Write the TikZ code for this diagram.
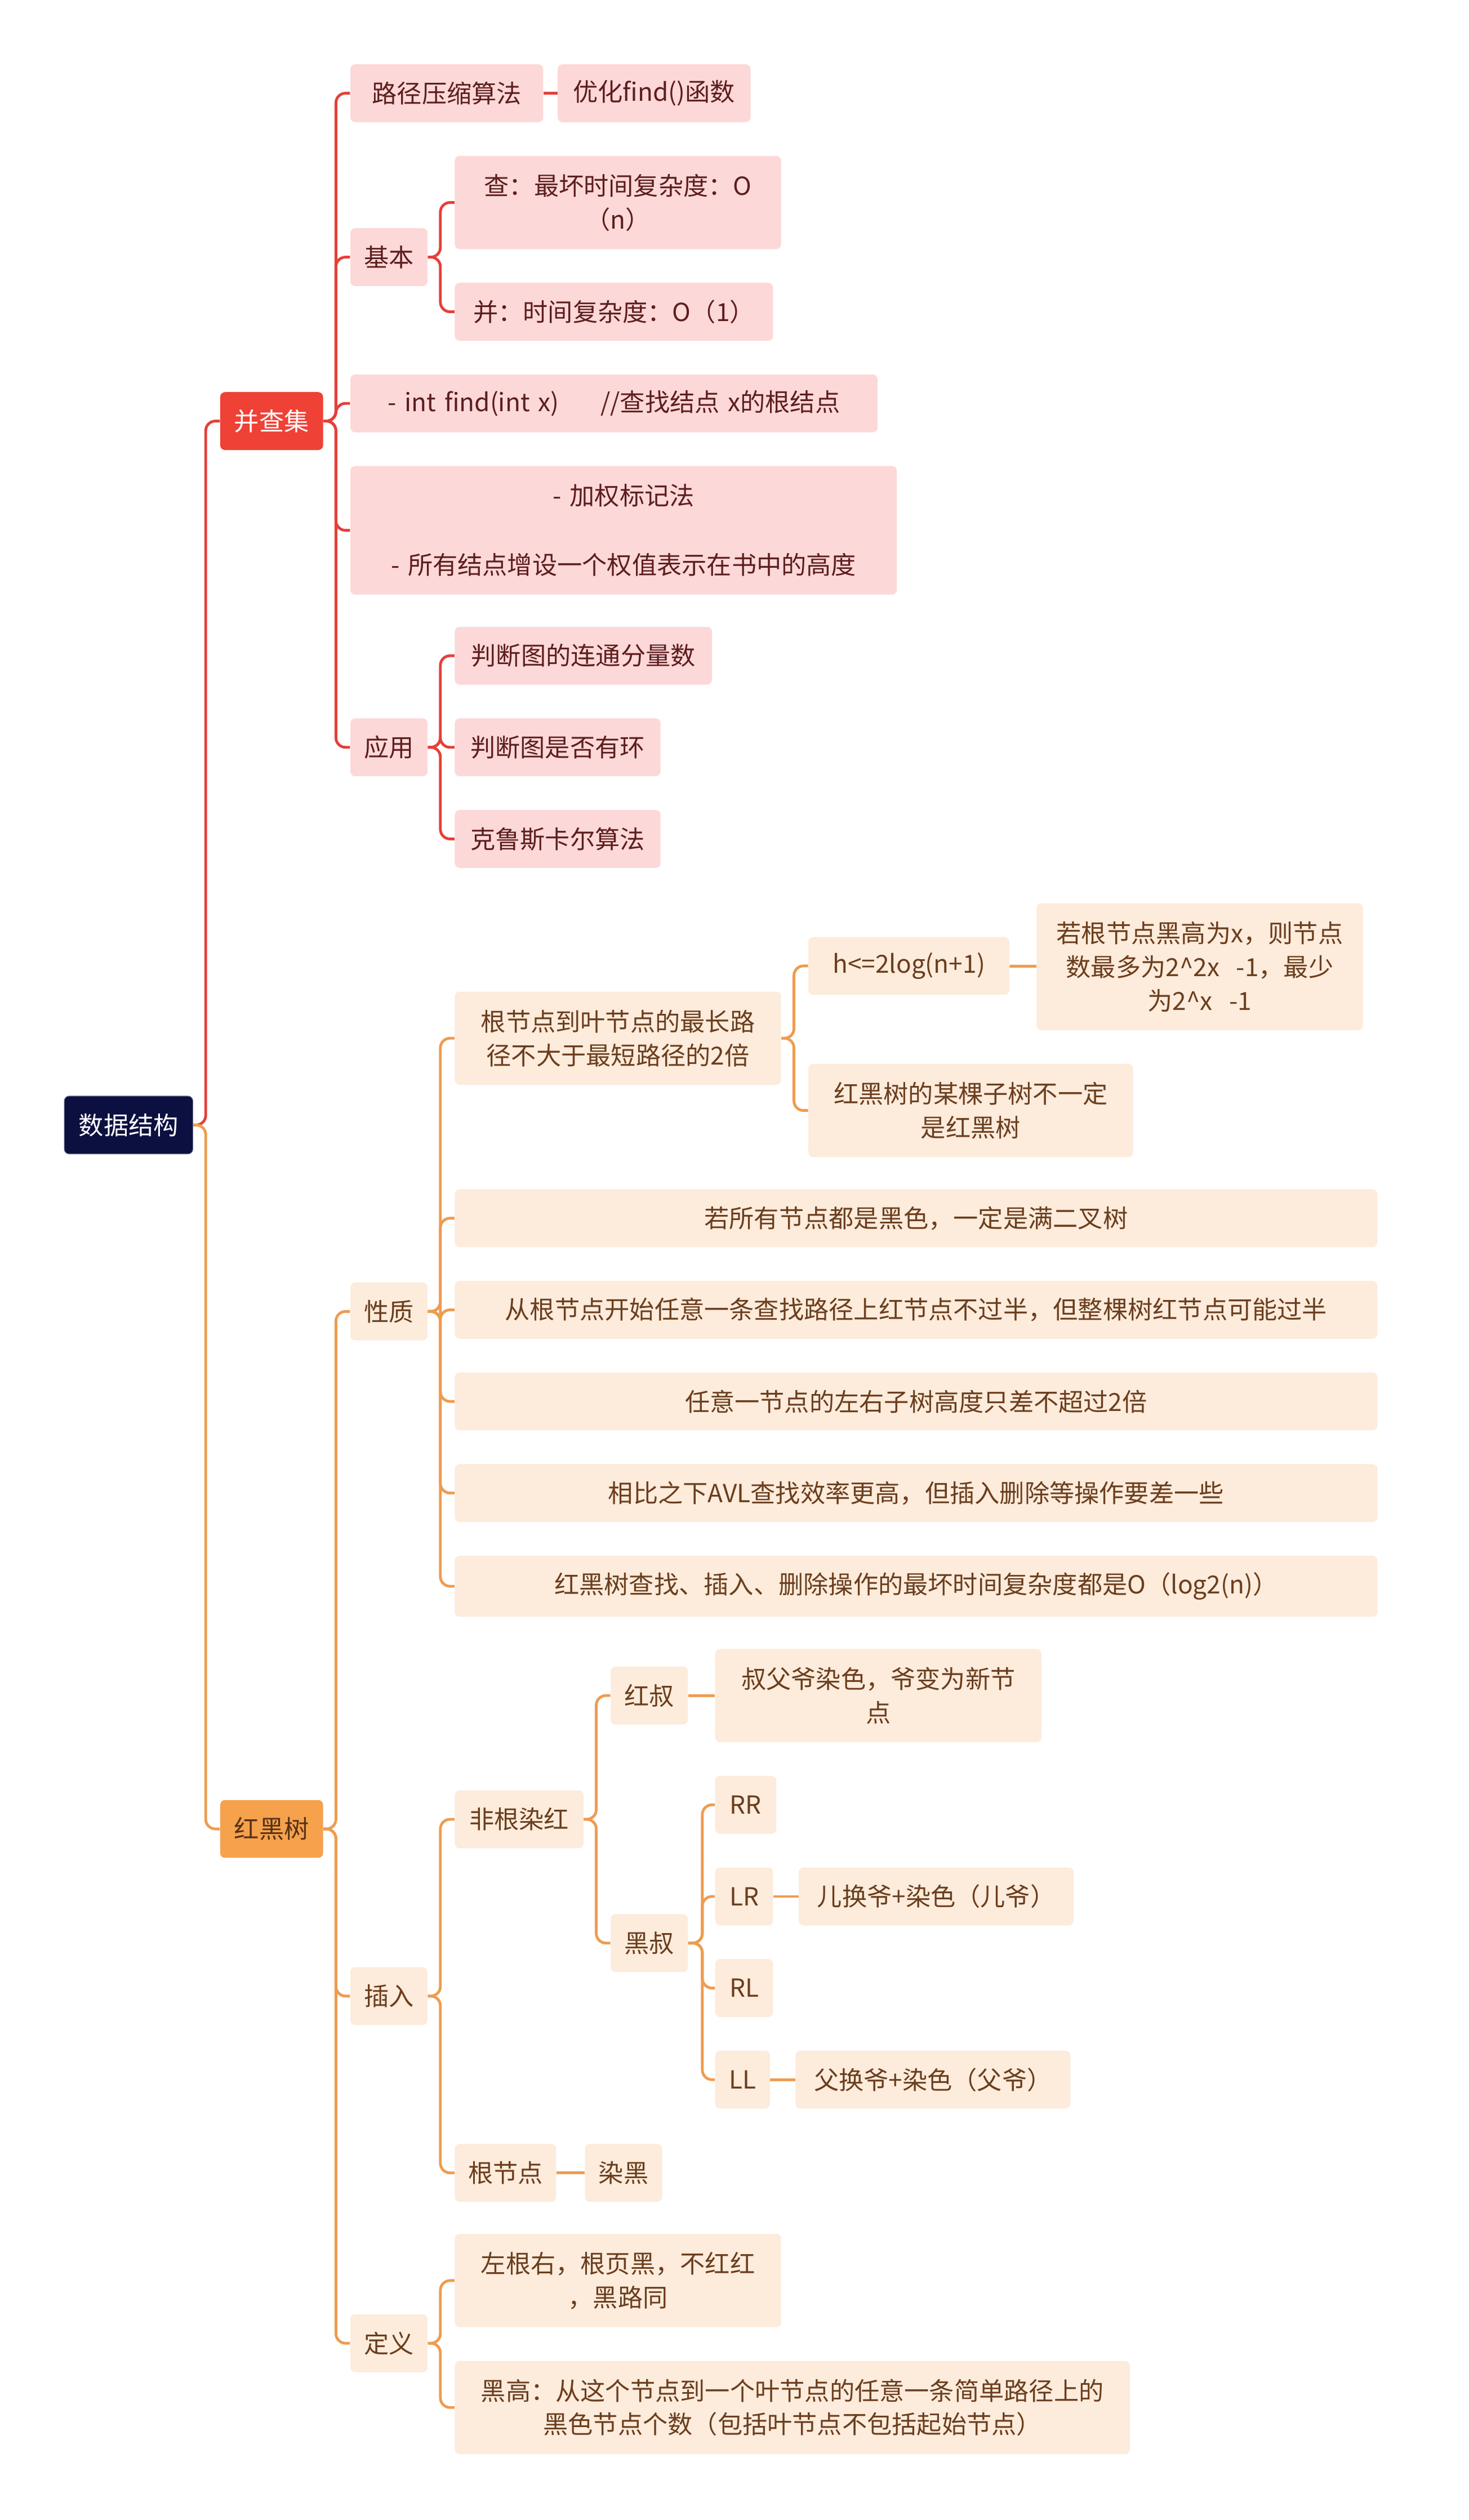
\documentclass[tikz,border=0pt]{standalone}
\usepackage{fontspec}
\setmainfont{Noto Sans CJK SC}
\usetikzlibrary{positioning}
\definecolor{rootc}{HTML}{0B1040}
\definecolor{redc}{HTML}{EF4136}
\definecolor{pinkc}{HTML}{FDD8D8}
\definecolor{pinktxt}{HTML}{5E1E1E}
\definecolor{orangec}{HTML}{F6A14C}
\definecolor{creamc}{HTML}{FDEBDB}
\definecolor{browntxt}{HTML}{6B3E1E}
\definecolor{redline}{HTML}{E5403A}
\definecolor{orgline}{HTML}{EE9C50}
\tikzset{
  box/.style={rounded corners=3pt, inner sep=0pt, align=center,
    font=\fontsize{15.5}{21}\selectfont},
  rootbox/.style={box, fill=rootc, text=white, draw=rootc!60!white},
  redbox/.style={box, fill=redc, text=white},
  orgbox/.style={box, fill=orangec, text=browntxt!80!black},
  pinkbox/.style={box, fill=pinkc, text=pinktxt},
  creambox/.style={box, fill=creamc, text=browntxt},
  redlink/.style={draw=redline, line width=1.7pt, rounded corners=6pt},
  orglink/.style={draw=orgline, line width=1.7pt, rounded corners=6pt}
}
% node from its corners
\newcommand\nd[7]{%
  \pgfmathsetmacro\nw{#4-#2}\pgfmathsetmacro\nh{#5-#3}\pgfmathsetmacro\tw{#4-#2-12}%
  \node[#6, minimum width=\nw pt, minimum height=\nh pt, text width=\tw pt]
    (#1) at ({(#2+#4)/2},{(#3+#5)/2}) {#7};}
% link parent to child over a bus at x
\newcommand\lk[4]{\draw[#4] (#1.east) -- (#3,0 |- #1.east) |- (#2.west);}
\begin{document}
\begin{tikzpicture}[x=1pt, y=-1pt]
\useasboundingbox[fill=white] (0,0) rectangle (914,1568);
\nd{root}{40}{682}{120}{718}{rootbox}{数据结构}
\nd{ufs}{137}{244}{201}{280}{redbox}{并查集}
\nd{rbt}{137}{1120}{201}{1156}{orgbox}{红黑树}
% union find
\nd{path}{218}{40}{338}{76}{pinkbox}{路径压缩算法}
\nd{opt}{347}{40}{467}{76}{pinkbox}{优化find()函数}
\nd{basic}{218}{142}{266}{178}{pinkbox}{基本}
\nd{query}{283}{97}{486}{155}{pinkbox}{查：最坏时间复杂度：O\\（n）}
\nd{merge}{283}{176}{481}{212}{pinkbox}{并：时间复杂度：O（1）}
\nd{find}{218}{233}{546}{269}{pinkbox}{- int find(int x)\quad\ \ //查找结点 x的根结点}
\nd{weight}{218}{290}{558}{370}{pinkbox}{- 加权标记法\\[22pt]- 所有结点增设一个权值表示在书中的高度}
\nd{use}{218}{447}{266}{483}{pinkbox}{应用}
\nd{comp}{283}{390}{443}{426}{pinkbox}{判断图的连通分量数}
\nd{cycle}{283}{447}{411}{483}{pinkbox}{判断图是否有环}
\nd{kru}{283}{504}{411}{540}{pinkbox}{克鲁斯卡尔算法}
% red black tree
\nd{prop}{218}{798}{266}{834}{creambox}{性质}
\nd{longp}{283}{617}{486}{675}{creambox}{根节点到叶节点的最长路\\径不大于最短路径的2倍}
\nd{hlog}{503}{583}{628}{619}{creambox}{h<=2log(n+1)}
\nd{bh}{645}{562}{848}{641}{creambox}{若根节点黑高为x，则节点\\数最多为2\^{}2x\ \ -1，最少\\为2\^{}x\ \ -1}
\nd{sub}{503}{662}{705}{720}{creambox}{红黑树的某棵子树不一定\\是红黑树}
\nd{allb}{283}{740}{857}{776}{creambox}{若所有节点都是黑色，一定是满二叉树}
\nd{half}{283}{797}{857}{833}{creambox}{从根节点开始任意一条查找路径上红节点不过半，但整棵树红节点可能过半}
\nd{diff}{283}{854}{857}{890}{creambox}{任意一节点的左右子树高度只差不超过2倍}
\nd{avl}{283}{911}{857}{947}{creambox}{相比之下AVL查找效率更高，但插入删除等操作要差一些}
\nd{cost}{283}{968}{857}{1006}{creambox}{红黑树查找、插入、删除操作的最坏时间复杂度都是O（log2(n)）}
\nd{ins}{218}{1224}{266}{1260}{creambox}{插入}
\nd{nonroot}{283}{1114}{363}{1150}{creambox}{非根染红}
\nd{redu}{380}{1037}{428}{1073}{creambox}{红叔}
\nd{redfix}{445}{1026}{648}{1084}{creambox}{叔父爷染色，爷变为新节\\点}
\nd{blku}{380}{1191}{428}{1227}{creambox}{黑叔}
\nd{rr}{445}{1105}{483}{1141}{creambox}{RR}
\nd{lr}{445}{1162}{481}{1198}{creambox}{LR}
\nd{lrfix}{497}{1162}{668}{1198}{creambox}{儿换爷+染色（儿爷）}
\nd{rl}{445}{1219}{481}{1255}{creambox}{RL}
\nd{ll}{445}{1276}{479}{1312}{creambox}{LL}
\nd{llfix}{495}{1276}{666}{1312}{creambox}{父换爷+染色（父爷）}
\nd{rootn}{283}{1334}{346}{1370}{creambox}{根节点}
\nd{black}{364}{1334}{412}{1370}{creambox}{染黑}
\nd{defn}{218}{1440}{266}{1476}{creambox}{定义}
\nd{rule}{283}{1390}{486}{1448}{creambox}{左根右，根页黑，不红红\\，黑路同}
\nd{bhdef}{283}{1469}{703}{1527}{creambox}{黑高：从这个节点到一个叶节点的任意一条简单路径上的\\黑色节点个数（包括叶节点不包括起始节点）}
% links
\lk{root}{ufs}{128}{redlink}
\lk{root}{rbt}{128}{orglink}
\foreach \c in {path,basic,find,weight,use} {\lk{ufs}{\c}{209}{redlink}}
\draw[redlink] (path) -- (opt);
\foreach \c in {query,merge} {\lk{basic}{\c}{274}{redlink}}
\foreach \c in {comp,cycle,kru} {\lk{use}{\c}{274}{redlink}}
\foreach \c in {prop,ins,defn} {\lk{rbt}{\c}{209}{orglink}}
\foreach \c in {longp,allb,half,diff,avl,cost} {\lk{prop}{\c}{274}{orglink}}
\foreach \c in {hlog,sub} {\lk{longp}{\c}{494}{orglink}}
\draw[orglink] (hlog) -- (bh);
\foreach \c in {nonroot,rootn} {\lk{ins}{\c}{274}{orglink}}
\foreach \c in {redu,blku} {\lk{nonroot}{\c}{371}{orglink}}
\draw[orglink] (redu) -- (redfix);
\foreach \c in {rr,lr,rl,ll} {\lk{blku}{\c}{437}{orglink}}
\draw[orglink] (lr) -- (lrfix);
\draw[orglink] (ll) -- (llfix);
\draw[orglink] (rootn) -- (black);
\foreach \c in {rule,bhdef} {\lk{defn}{\c}{274}{orglink}}
\end{tikzpicture}
\end{document}
